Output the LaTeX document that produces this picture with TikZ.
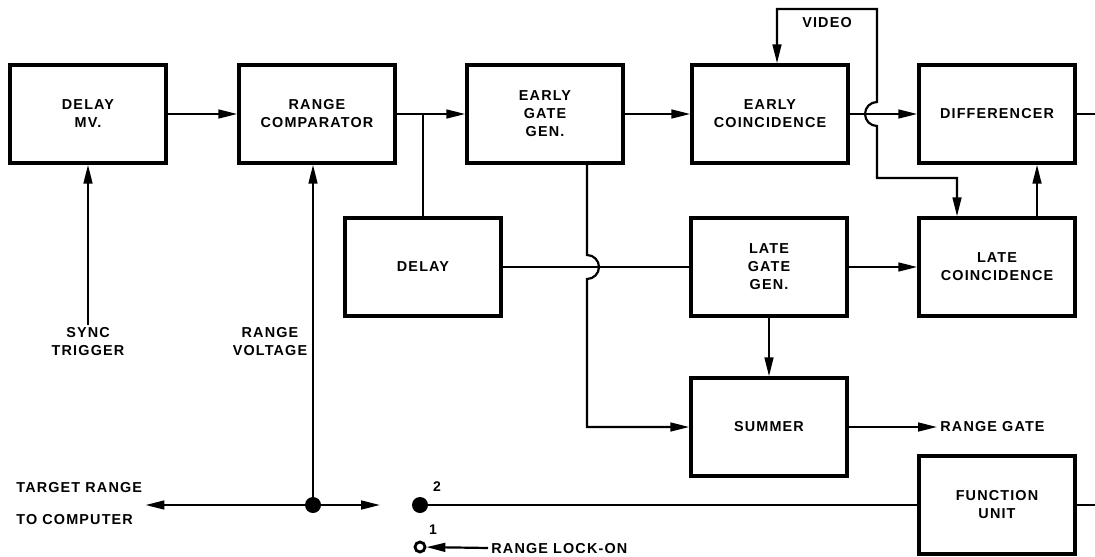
\documentclass[tikz,border=0pt]{standalone}
\usepackage{fontspec}
\setmainfont{Liberation Sans}
\newfontfamily\lblfamily[LetterSpace=8]{Liberation Sans}
\newcommand\lblfont{\lblfamily\bfseries\fontsize{7.2}{9}\selectfont}
\usetikzlibrary{arrows.meta}
\tikzset{
  blk/.style={draw, line width=1.7pt, minimum width=78pt, minimum height=49pt,
    align=center, inner sep=0pt, font=\lblfont},
  lbl/.style={font=\lblfont, align=center, inner sep=1.5pt},
  sig/.style={line width=1.1pt},
  arr/.style={sig, -{Triangle[length=9.5pt,width=4.4pt]}},
  arrtwo/.style={sig, {Triangle[length=9.5pt,width=4.4pt]}-{Triangle[length=9.5pt,width=4.4pt]}},
  dot/.style={circle, fill, minimum size=8pt, inner sep=0pt},
  ring/.style={circle, draw, line width=1.4pt, minimum size=5pt, inner sep=0pt},
}
\begin{document}
\begin{tikzpicture}[x=0.5pt, y=-0.5pt]
  \useasboundingbox (0,0) rectangle (1095,556);

  % top row
  \node[blk] (dmv) at (88,114) {DELAY\\MV.};
  \node[blk] (rc) at (317,114) {RANGE\\COMPARATOR};
  \node[blk] (egg) at (545,114) {EARLY\\GATE\\GEN.};
  \node[blk] (ec) at (770,114) {EARLY\\COINCIDENCE};
  \node[blk] (diff) at (997,114) {DIFFERENCER};

  % middle row
  \node[blk] (dly) at (423,267) {DELAY};
  \node[blk] (lgg) at (769,267) {LATE\\GATE\\GEN.};
  \node[blk] (lc) at (997,267) {LATE\\COINCIDENCE};

  % bottom
  \node[blk] (sum) at (769,427) {SUMMER};
  \node[blk] (fu) at (997,505) {FUNCTION\\UNIT};

  % loose labels
  \node[lbl] (sync) at (88,342) {SYNC\\TRIGGER};
  \node[lbl] (rv) at (270,342) {RANGE\\VOLTAGE};
  \node[lbl, align=left, anchor=west] (tgt) at (13,504) {TARGET RANGE\\[7pt]TO COMPUTER};
  \node[lbl] (video) at (827,23) {VIDEO};
  \node[lbl, anchor=west] (rg) at (937,427) {RANGE GATE};
  \node[lbl, anchor=west] (lock) at (488,549) {RANGE LOCK-ON};

  % switch
  \node[dot] (jn) at (313,505) {};
  \node[dot] (sw2) at (420,505) {};
  \node[ring] (sw1) at (420,547) {};
  \node[font=\fontsize{7}{8}\selectfont\bfseries, inner sep=0pt] (num2) at (437,487) {2};
  \node[font=\fontsize{7}{8}\selectfont\bfseries, inner sep=0pt] (num1) at (433,530) {1};
  \coordinate (gap) at (380,505);
  \coordinate (diffout) at (1095,114);
  \coordinate (fuout) at (1095,505);

  % signal flow
  \draw[arr] (dmv) -- (rc);
  \draw[arr] (rc) -- (egg);
  \draw[sig] (rc.east -| dly.north) -- (dly.north);
  \draw[arr] (egg) -- (ec);
  \draw[arr] (ec) -- (diff);
  \draw[sig] (diff) -- (diffout);
  \draw[sig] (dly) -- (lgg);
  \draw[arr] (lgg) -- (lc);
  \draw[arr] (lgg) -- (sum);
  \draw[arr] ([xshift=20pt]lc.north) -- ([xshift=20pt]diff.south);
  \draw[arr] (sum) -- (rg);

  % video feed, hops over the early line
  \draw[arrtwo] ([xshift=3.5pt]ec.north) |- (877,9) -- (877,102)
    .. controls (870.4,102) and (865,107.4) .. (865,114)
    .. controls (865,120.6) and (870.4,126) .. (877,126)
    -- (877,178) -| ([xshift=-20pt]lc.north);

  % early gate to summer, hops over the delay line
  \draw[arr] ([xshift=21pt]egg.south) -- (587,255)
    .. controls (593.6,255) and (599,260.4) .. (599,267)
    .. controls (599,273.6) and (593.6,279) .. (587,279) |- (sum.west);

  % inputs and range lines
  \draw[arr] (sync.north) -- (sync.north |- dmv.south);
  \draw[arr] (jn) -- (jn |- rc.south);
  \draw[arr] (jn) -- (tgt.east |- jn);
  \draw[arr] (jn) -- (gap);
  \draw[sig] (sw2) -- (fu);
  \draw[sig] (fu) -- (fuout);
  \draw[arr] (lock) -- (sw1);
\end{tikzpicture}
\end{document}
